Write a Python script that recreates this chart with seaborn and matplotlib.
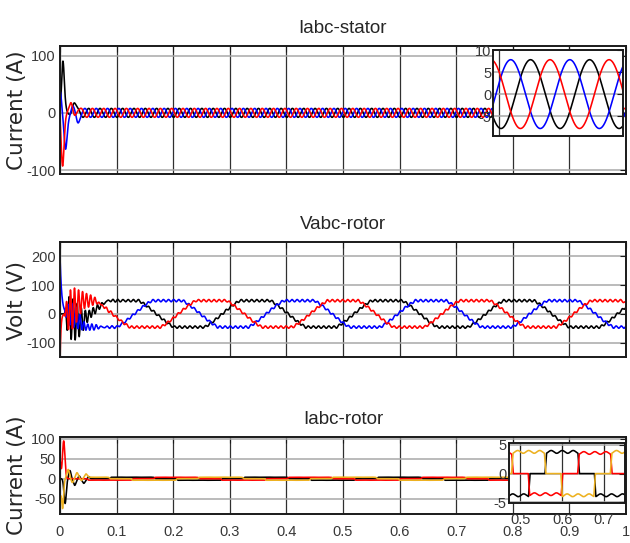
import numpy as np
import pandas as pd
import matplotlib
matplotlib.use("Agg")
import matplotlib.pyplot as plt
import seaborn as sns

sns.set_theme(style="white")
plt.rcParams["font.family"] = ["Liberation Sans", "DejaVu Sans"]

# ---------------- simulation time base ----------------
t_stop = 1.0
dt = 5e-5

# ---------------- stator currents (A) ----------------
stator_phases = ["a", "b", "c"]
stator_colors = ["#000000", "#0000ff", "#ff0000"]
stator_freq_hz = 50.0
stator_amp = [7.8, 7.8, 7.8]
stator_peak_t = [0.0107, 0.0040, 0.0173]
# start-up transient: peak times, peak values, widths
stator_bump_t = [[0.005, 0.0135, 0.024], [0.0, 0.0095, 0.022, 0.031], [0.0045, 0.020, 0.030]]
stator_bump_v = [[92.0, -5.0, 20.0], [35.0, -62.0, 5.0, -12.0], [-88.0, 12.0, 6.0]]
stator_bump_w = [[0.0035, 0.003, 0.0045], [0.003, 0.004, 0.003, 0.004], [0.0035, 0.0035, 0.004]]

# ---------------- rotor voltages (V) ----------------
rotor_v_colors = ["#000000", "#0000ff", "#ff0000"]
slip_period_s = 0.2328
rotor_v_amp = [46.0, 46.0, 46.0]
rotor_v_center_t = [0.112, 0.1896, 0.2672]
rotor_v_ripple = 4.0
rotor_v_ripple_hz = 110.0
rotor_v_spike = [0.0, 200.0, -170.0]
rotor_v_spike_tau = [0.001, 0.003, 0.0015]
rotor_v_osc = [75.0, 40.0, 70.0]
rotor_v_osc_phase = [0.0, 2.1, 4.2]
rotor_v_osc_hz = 140.0

# ---------------- rotor currents (A) ----------------
rotor_i_colors = ["#000000", "#ff0000", "#edb120"]
rotor_i_period_s = 0.236
rotor_i_amp = [4.0, 3.8, 4.0]
rotor_i_center_t = [0.600, 0.678, 0.520]
rotor_i_bump_t = [[0.009, 0.0175, 0.026, 0.034, 0.042, 0.050],
                  [0.0, 0.0065],
                  [0.0, 0.0045, 0.0145, 0.022, 0.030, 0.038, 0.046]]
rotor_i_bump_v = [[-62.0, 22.0, -14.0, 10.0, -8.0, 6.0],
                  [45.0, 95.0],
                  [-45.0, -75.0, 22.0, -12.0, 12.0, -8.0, 8.0]]
rotor_i_bump_w = [[0.0028] * 6, [0.002, 0.003], [0.002, 0.0025, 0.003, 0.003, 0.003, 0.003, 0.003]]

# ---------------- axis text ----------------
x_ticks = [0, 0.1, 0.2, 0.3, 0.4, 0.5, 0.6, 0.7, 0.8, 0.9, 1.0]
x_tick_labels = ["0", "0.1", "0.2", "0.3", "0.4", "0.5", "0.6", "0.7", "0.8", "0.9", "1"]
stator_yticks = [-100, 0, 100]
stator_ytick_labels = ["-100", "0", "100"]
rotor_v_yticks = [-100, 0, 100, 200]
rotor_v_ytick_labels = ["-100", "0", "100", "200"]
rotor_i_yticks = [-50, 0, 50, 100]
rotor_i_ytick_labels = ["-50", "0", "50", "100"]
zoom1_yticks = [-5, 0, 5, 10]
zoom1_ytick_labels = ["-5", "0", "5", "10"]
zoom2_xticks = [0.5, 0.6, 0.7]
zoom2_xtick_labels = ["0.5", "0.6", "0.7"]
zoom2_yticks = [-5, 0, 5]
zoom2_ytick_labels = ["-5", "0", "5"]

t = np.arange(0.0, t_stop + dt / 2, dt)


def bumps(tt, times, values, widths):
    out = np.zeros_like(tt)
    for tc, v, w in zip(times, values, widths):
        out += v * np.exp(-((tt - tc) / w) ** 2)
    return out


def long_frame(signals):
    return pd.concat(
        [pd.DataFrame({"t": t, "value": s, "phase": p}) for p, s in zip(stator_phases, signals)],
        ignore_index=True,
    )


# stator currents
stator = []
for k in range(3):
    steady = stator_amp[k] * np.cos(2 * np.pi * stator_freq_hz * (t - stator_peak_t[k]))
    stator.append(steady + bumps(t, stator_bump_t[k], stator_bump_v[k], stator_bump_w[k]))
df_stator = long_frame(stator)

# rotor voltages: trapezoidal slip-frequency waves with converter ripple
gate_v = np.clip((t - 0.01) / 0.03, 0, 1)
env_v = np.where(t > 0.008, (t - 0.008) / 0.012 * np.exp(1 - (t - 0.008) / 0.012), 0.0)
rotor_v = []
for k in range(3):
    theta = 2 * np.pi * (t - rotor_v_center_t[k]) / slip_period_s
    trap = np.clip(1.35 * np.cos(theta), -1, 1)
    steady = rotor_v_amp[k] * trap + rotor_v_ripple * np.sin(2 * np.pi * rotor_v_ripple_hz * t + k)
    osc = rotor_v_osc[k] * env_v * np.sin(2 * np.pi * rotor_v_osc_hz * t + rotor_v_osc_phase[k])
    spike = rotor_v_spike[k] * np.exp(-t / rotor_v_spike_tau[k])
    rotor_v.append(gate_v * steady + osc + spike)
df_rotor_v = long_frame(rotor_v)

# rotor currents: 120-degree blocks with ripple
gate_i = np.clip((t - 0.005) / 0.03, 0, 1)
rotor_i = []
for k in range(3):
    theta = 2 * np.pi * (t - rotor_i_center_t[k]) / rotor_i_period_s
    c = np.cos(theta)
    level = np.clip((np.abs(c) - 0.5) / 0.08 + 0.5, 0, 1) * np.sign(c)
    hump = 1 - 0.12 * (0.5 - 0.5 * np.cos(9 * theta))
    steady = rotor_i_amp[k] * level * hump
    rotor_i.append(gate_i * steady + bumps(t, rotor_i_bump_t[k], rotor_i_bump_v[k], rotor_i_bump_w[k]))
df_rotor_i = long_frame(rotor_i)

# ---------------- figure ----------------
W, H = 630, 543
fig = plt.figure(figsize=(W / 100, H / 100), dpi=100, facecolor="white")


def box(x0, y0, x1, y1):
    return [x0 / W, 1 - y1 / H, (x1 - x0) / W, (y1 - y0) / H]


TICK_COLOR = "#383838"
TEXT_COLOR = "#262626"


def style(ax, xlim, ylim, xticks, yticks, ytick_labels, xtick_labels=None, size=10.5, ypad=3, xpad=8):
    ax.set_facecolor("white")
    ax.set_xlim(xlim)
    ax.set_ylim(ylim)
    ax.set_xticks(xticks)
    ax.set_yticks(yticks)
    ax.set_yticklabels(ytick_labels)
    if xtick_labels is None:
        ax.tick_params(labelbottom=False)
    else:
        ax.set_xticklabels(xtick_labels)
    ax.grid(True, axis="x", color="#303030", lw=0.9)
    ax.grid(True, axis="y", color="#a8a8a8", lw=1.1)
    ax.set_axisbelow(True)
    for s in ax.spines.values():
        s.set_visible(True)
        s.set_color("#1a1a1a")
        s.set_linewidth(1.4)
    ax.tick_params(axis="both", direction="in", length=4, width=0.8, top=True, right=True,
                   colors="#1a1a1a", labelcolor=TICK_COLOR, labelsize=size)
    ax.tick_params(axis="y", pad=ypad)
    ax.tick_params(axis="x", pad=xpad)
    ax.set_xlabel("")
    ax.set_ylabel("")


def draw(ax, df, colors, lw=1.15):
    sns.lineplot(data=df, x="t", y="value", hue="phase", palette=dict(zip(stator_phases, colors)),
                 estimator=None, legend=False, lw=lw, ax=ax)


# top: stator currents
ax1 = fig.add_axes(box(60, 46, 626, 174))
draw(ax1, df_stator, stator_colors)
style(ax1, (0, 1), (-107, 117), x_ticks, stator_yticks, stator_ytick_labels)
ax1.set_title("Iabc-stator", fontsize=13.5, color=TEXT_COLOR, pad=9.5)

# middle: rotor voltages
ax2 = fig.add_axes(box(60, 242, 626, 357))
draw(ax2, df_rotor_v, rotor_v_colors)
style(ax2, (0, 1), (-150, 250), x_ticks, rotor_v_yticks, rotor_v_ytick_labels)
ax2.set_title("Vabc-rotor", fontsize=13.5, color=TEXT_COLOR, pad=9.5)

# bottom: rotor currents
ax3 = fig.add_axes(box(60, 437, 626, 514))
draw(ax3, df_rotor_i, rotor_i_colors)
style(ax3, (0, 1), (-89, 105), x_ticks, rotor_i_yticks, rotor_i_ytick_labels, x_tick_labels)
ax3.set_title("Iabc-rotor", fontsize=13.5, color=TEXT_COLOR, pad=9.5)

# zoomed views
z1 = fig.add_axes(box(493, 50, 623, 136))
w1 = df_stator[(df_stator.t >= 0.497) & (df_stator.t <= 0.543)]
draw(z1, w1, stator_colors)
style(z1, (0.498, 0.542), (-9.5, 10), [0.5], zoom1_yticks, zoom1_ytick_labels, ypad=1)
z1.tick_params(bottom=False, top=False)

z2 = fig.add_axes(box(509, 443, 625, 503))
w2 = df_rotor_i[(df_rotor_i.t >= 0.47) & (df_rotor_i.t <= 0.752)]
draw(z2, w2, rotor_i_colors)
style(z2, (0.473, 0.75), (-5.1, 5.3), zoom2_xticks, zoom2_yticks, zoom2_ytick_labels,
      zoom2_xtick_labels, ypad=2, xpad=7)

# y-axis labels
fig.text(17 / W, 1 - 110 / H, "Current (A)", rotation=90, ha="center", va="center",
         fontsize=15.5, family="DejaVu Sans", color=TEXT_COLOR)
fig.text(17 / W, 1 - 300 / H, "Volt (V)", rotation=90, ha="center", va="center",
         fontsize=15.5, family="DejaVu Sans", color=TEXT_COLOR)
fig.text(17 / W, 1 - 475 / H, "Current (A)", rotation=90, ha="center", va="center",
         fontsize=15.5, family="DejaVu Sans", color=TEXT_COLOR)

fig.savefig("out.png", dpi=100, facecolor="white")
